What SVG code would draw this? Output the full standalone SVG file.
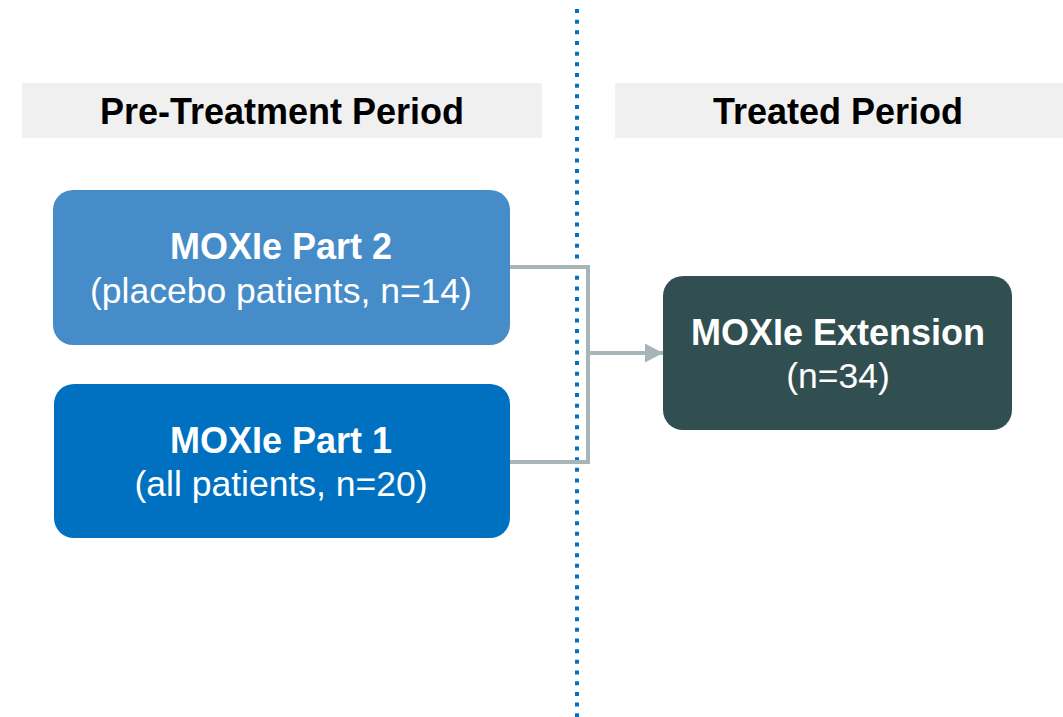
<svg xmlns="http://www.w3.org/2000/svg" width="1063" height="717" viewBox="0 0 1063 717">
<style>
.hdr{fill:#f0f0f0}
.ht{font-family:"Liberation Sans",Arial,sans-serif;font-weight:bold;font-size:36px;fill:#000;text-anchor:middle}
.tb{font-family:"Liberation Sans",Arial,sans-serif;font-weight:bold;font-size:36px;fill:#fff;text-anchor:middle}
.tr{font-family:"Liberation Sans",Arial,sans-serif;font-size:35.5px;fill:#fff;text-anchor:middle}
.conn{fill:none;stroke:#a5b5b8;stroke-width:4}
</style>
<defs>
<marker id="ah" markerWidth="20" markerHeight="20" refX="18" refY="9.5" orient="auto" markerUnits="userSpaceOnUse"><path d="M0,0 L18,9.5 L0,19 Z" fill="#a5b5b8"/></marker>
</defs>
<rect width="1063" height="717" fill="#fff"/>
<g id="header-pre"><rect class="hdr" x="22" y="83" width="520" height="55"/><text class="ht" x="282" y="124">Pre-Treatment Period</text></g>
<g id="header-treated"><rect class="hdr" x="615" y="83" width="448" height="55"/><text class="ht" x="838" y="124">Treated Period</text></g>
<line x1="577" y1="9" x2="577" y2="717" stroke="#0070c0" stroke-width="4" stroke-dasharray="4 6.67"/>
<g id="connectors">
<path class="conn" d="M510,267 H588 V462 H510"/>
<path class="conn" d="M588,353 H663" marker-end="url(#ah)"/>
</g>
<g id="part2"><rect x="53" y="190" width="457" height="155" rx="20" fill="#458cc8"/><text class="tb" x="281" y="259">MOXIe Part 2</text><text class="tr" x="281" y="303">(placebo patients, n=14)</text></g>
<g id="part1"><rect x="54" y="384" width="456" height="154" rx="20" fill="#0070c0"/><text class="tb" x="281" y="453">MOXIe Part 1</text><text class="tr" x="281" y="496">(all patients, n=20)</text></g>
<g id="extension"><rect x="663" y="276" width="349" height="154" rx="20" fill="#314f50"/><text class="tb" x="838" y="345">MOXIe Extension</text><text class="tr" x="838" y="388">(n=34)</text></g>
</svg>
